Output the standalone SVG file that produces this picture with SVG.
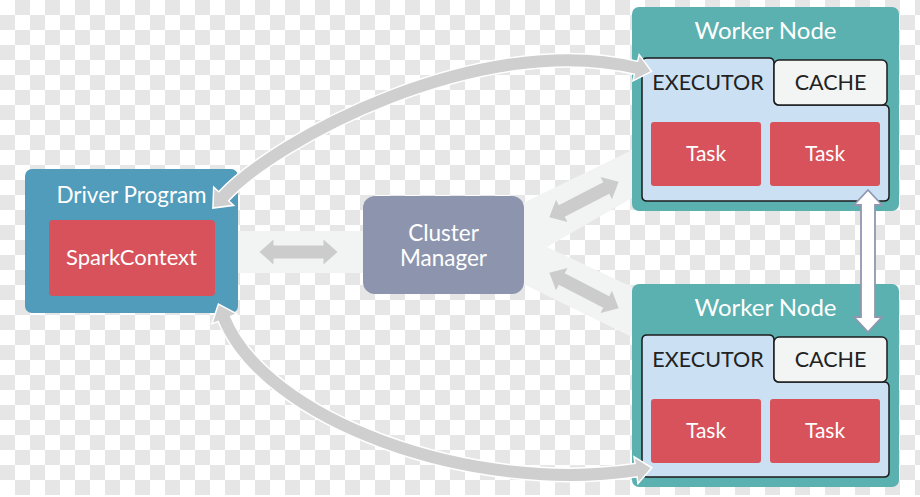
<svg xmlns="http://www.w3.org/2000/svg" width="920" height="497" viewBox="0 0 920 497">
<style>
.title{font-family:Lato,"Open Sans","Liberation Sans",sans-serif;fill:#ffffff;text-anchor:middle;}
.lbl{font-family:Lato,"Open Sans","Liberation Sans",sans-serif;fill:#222222;text-anchor:middle;font-size:21.5px;}
.task{fill:#d7525a;}
.taskt{font-family:Lato,"Open Sans","Liberation Sans",sans-serif;fill:#ffffff;text-anchor:middle;font-size:21px;}
.worker{fill:#5bb0b0;}
.exec{fill:#cbe1f3;stroke:#1c1c1c;stroke-width:1.5;}
.cache{fill:#f3f4f4;stroke:#1c1c1c;stroke-width:1.5;}
.band{fill:#f2f3f3;}
.arcw{fill:none;stroke:#ffffff;stroke-width:15;}
.arcg{fill:none;stroke:#cfcfcf;stroke-width:12;}
</style>
<defs>
<marker id="head" markerUnits="userSpaceOnUse" viewBox="0 -16 20 32" markerWidth="20" markerHeight="32" refX="1" refY="0" orient="auto-start-reverse" overflow="visible">
<path d="M0,-13.5 L16,0 L0,13.5 Z" fill="#cfcfcf"/>
<path d="M0,-6 L0,-13.5 L16,0 L0,13.5 L0,6" fill="none" stroke="#ffffff" stroke-width="1.5"/>
</marker>
<path id="dbl" d="M-39,0 L-25,-12.5 L-25,-6.5 L25,-6.5 L25,-12.5 L39,0 L25,12.5 L25,6.5 L-25,6.5 L-25,12.5 Z" fill="#cccccc"/>
</defs>
<rect width="920" height="497" fill="#ffffff"/>
<path d="M15,7.5h930M15,37.5h930M15,67.5h930M15,97.5h930M15,127.5h930M15,157.5h930M15,187.5h930M15,217.5h930M15,247.5h930M15,277.5h930M15,307.5h930M15,337.5h930M15,367.5h930M15,397.5h930M15,427.5h930M15,457.5h930M15,487.5h930" fill="none" stroke="#e6e6e6" stroke-width="15" stroke-dasharray="15 15"/>
<path d="M0,22.5h930M0,52.5h930M0,82.5h930M0,112.5h930M0,142.5h930M0,172.5h930M0,202.5h930M0,232.5h930M0,262.5h930M0,292.5h930M0,322.5h930M0,352.5h930M0,382.5h930M0,412.5h930M0,442.5h930M0,472.5h930" fill="none" stroke="#e6e6e6" stroke-width="15" stroke-dasharray="15 15"/>
<g id="bands">
<rect class="band" x="236" y="231" width="130" height="42"/>
<path class="band" d="M515,207 L632,150 L632,198 L547,247 L632,287 L632,337 L515,280 Z"/>
</g>
<g id="driver">
<rect x="25" y="169" width="213" height="144" rx="7" fill="#519bbb"/>
<text class="title" x="131.5" y="203" font-size="22.5">Driver Program</text>
<rect class="task" x="49" y="220" width="166" height="76" rx="4"/>
<text class="title" x="131.5" y="265" font-size="22">SparkContext</text>
</g>
<g id="cluster-manager">
<rect x="363" y="196" width="161" height="98" rx="12" fill="#8d95ae"/>
<text class="title" x="443.5" y="241" font-size="22.5">Cluster</text>
<text class="title" x="443.5" y="266" font-size="22.5">Manager</text>
</g>
<g id="worker-1">
<rect class="worker" x="632" y="7" width="267" height="204" rx="7"/>
<text class="title" x="765.5" y="39" font-size="24">Worker Node</text>
<path class="exec" d="M642,63 Q642,58 647,58 L769,58 Q774,58 774,63 L774,100 Q774,105 779,105 L884,105 Q889,105 889,110 L889,196 Q889,201 884,201 L647,201 Q642,201 642,196 Z"/>
<rect class="cache" x="774" y="60" width="113" height="45" rx="5"/>
<text class="lbl" x="708" y="90">EXECUTOR</text>
<text class="lbl" x="830.5" y="90">CACHE</text>
<rect class="task" x="651" y="122" width="110" height="64" rx="3"/>
<rect class="task" x="770" y="122" width="110" height="64" rx="3"/>
<text class="taskt" x="706" y="161">Task</text>
<text class="taskt" x="825" y="161">Task</text>
</g>
<g id="worker-2">
<rect class="worker" x="632" y="284" width="267" height="203" rx="7"/>
<text class="title" x="765.5" y="316" font-size="24">Worker Node</text>
<path class="exec" d="M642,340 Q642,335 647,335 L769,335 Q774,335 774,340 L774,377 Q774,382 779,382 L884,382 Q889,382 889,387 L889,472 Q889,477 884,477 L647,477 Q642,477 642,472 Z"/>
<rect class="cache" x="774" y="337" width="113" height="45" rx="5"/>
<text class="lbl" x="708" y="367">EXECUTOR</text>
<text class="lbl" x="830.5" y="367">CACHE</text>
<rect class="task" x="651" y="399" width="110" height="64" rx="3"/>
<rect class="task" x="770" y="399" width="110" height="64" rx="3"/>
<text class="taskt" x="706" y="438">Task</text>
<text class="taskt" x="825" y="438">Task</text>
</g>
<g id="connectors">
<path class="arcw" d="M223,197 C275,140 480,30 637,68"/>
<path class="arcg" d="M223,197 C275,140 480,30 637,68" marker-start="url(#head)" marker-end="url(#head)"/>
<path class="arcw" d="M224,318 C265,420 470,495 637,470"/>
<path class="arcg" d="M224,318 C265,420 470,495 637,470" marker-start="url(#head)" marker-end="url(#head)"/>
<use href="#dbl" transform="translate(298.5,252)"/>
<use href="#dbl" transform="translate(584,199.5) rotate(-27.2)"/>
<use href="#dbl" transform="translate(584,290.5) rotate(27.2)"/>
<path d="M868,190 L882,205 L875,205 L875,317 L882,317 L868,332 L854,317 L861,317 L861,205 L854,205 Z" fill="#ffffff" stroke="#8f98b0" stroke-width="1.8" stroke-linejoin="miter"/>
</g>
</svg>
